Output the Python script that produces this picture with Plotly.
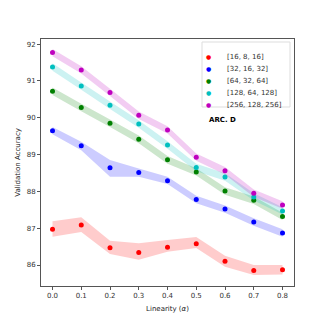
import plotly.graph_objects as go

linearity = [0.0, 0.1, 0.2, 0.3, 0.4, 0.5, 0.6, 0.7, 0.8]

arch_names = ["[16, 8, 16]", "[32, 16, 32]", "[64, 32, 64]", "[128, 64, 128]", "[256, 128, 256]"]
arch_colors = ["#ff0000", "#0000ff", "#008000", "#00bfbf", "#bf00bf"]
band_colors = ["rgba(255,0,0,0.2)", "rgba(0,0,255,0.2)", "rgba(0,128,0,0.2)",
               "rgba(0,191,191,0.2)", "rgba(191,0,191,0.2)"]

acc_16 = [86.97, 87.09, 86.47, 86.34, 86.48, 86.58, 86.10, 85.85, 85.87]
lo_16 = [86.77, 86.90, 86.30, 86.14, 86.36, 86.46, 85.95, 85.73, 85.74]
hi_16 = [87.19, 87.30, 86.66, 86.59, 86.68, 86.76, 86.25, 86.00, 86.00]

acc_32 = [89.65, 89.24, 88.64, 88.51, 88.29, 87.78, 87.52, 87.17, 86.87]
lo_32 = [89.55, 89.12, 88.40, 88.40, 88.20, 87.68, 87.42, 87.07, 86.77]
hi_32 = [89.75, 89.35, 88.85, 88.62, 88.40, 87.88, 87.62, 87.27, 86.97]

acc_64 = [90.72, 90.28, 89.85, 89.42, 88.86, 88.53, 88.01, 87.76, 87.32]
lo_64 = [90.62, 90.18, 89.75, 89.31, 88.75, 88.43, 87.91, 87.66, 87.22]
hi_64 = [90.82, 90.38, 89.95, 89.52, 88.96, 88.63, 88.11, 87.86, 87.42]

acc_128 = [91.38, 90.86, 90.34, 89.83, 89.26, 88.65, 88.39, 87.85, 87.47]
lo_128 = [91.28, 90.76, 90.24, 89.73, 89.16, 88.55, 88.29, 87.75, 87.37]
hi_128 = [91.48, 90.96, 90.44, 89.93, 89.36, 88.75, 88.49, 87.95, 87.57]

acc_256 = [91.77, 91.30, 90.69, 90.07, 89.67, 88.93, 88.56, 87.95, 87.63]
lo_256 = [91.67, 91.20, 90.59, 89.97, 89.57, 88.83, 88.46, 87.85, 87.53]
hi_256 = [91.87, 91.40, 90.79, 90.17, 89.77, 89.03, 88.66, 88.05, 87.73]

series = [(acc_16, lo_16, hi_16), (acc_32, lo_32, hi_32), (acc_64, lo_64, hi_64),
          (acc_128, lo_128, hi_128), (acc_256, lo_256, hi_256)]

# page body adds an 8px offset, so the plot box is shifted back by that much
OFF = 8
L, R, T, B = 41 - OFF, 33, 39 - OFF, 41
W = H = 327 - OFF


def px_x(p):
    return (p - OFF - L) / (W - L - R)


def px_y(p):
    return (H - B - (p - OFF)) / (H - T - B)


fig = go.Figure()

# shaded bands first so the dots sit on top
for (acc, lo, hi), bc in zip(series, band_colors):
    fig.add_trace(go.Scatter(x=linearity + linearity[::-1], y=hi + lo[::-1],
                             fill="toself", fillcolor=bc, mode="none",
                             showlegend=False, hoverinfo="skip"))

for (acc, lo, hi), name, c in zip(series, arch_names, arch_colors):
    fig.add_trace(go.Scatter(x=linearity, y=acc, mode="markers", name=name,
                             marker=dict(color=c, size=5), showlegend=False))

axis_style = dict(showgrid=False, zeroline=False, showline=True, linecolor="#555555",
                  linewidth=1, mirror=True, ticks="outside", ticklen=3, automargin=False,
                  tickcolor="#555555", tickfont=dict(size=7, color="#333333"))

fig.update_xaxes(range=[-0.04, 0.84], tickvals=linearity,
                 ticktext=[f"{v:.1f}" for v in linearity],
                 title=dict(text="Linearity (<i>α</i>)", font=dict(size=7, color="#222222"), standoff=6),
                 **axis_style)
fig.update_yaxes(range=[85.43, 92.14], tickvals=[86, 87, 88, 89, 90, 91, 92],
                 title=dict(text="Validation Accuracy", font=dict(size=7, color="#222222"), standoff=5),
                 **axis_style)

# hand-drawn legend box, matplotlib style
fig.add_shape(type="rect", xref="paper", yref="paper",
              x0=px_x(202), x1=px_x(290), y0=px_y(107), y1=px_y(42),
              line=dict(color="#dddddd", width=1), fillcolor="rgba(255,255,255,0.8)")
for i, (name, c) in enumerate(zip(arch_names, arch_colors)):
    yy = px_y(50.7 + 12.15 * i)
    fig.add_annotation(x=px_x(212.7), y=yy, xref="paper", yref="paper", text="●",
                       showarrow=False, font=dict(size=6, color=c))
    fig.add_annotation(x=px_x(225), y=yy, xref="paper", yref="paper", text=name,
                       xanchor="left", showarrow=False, font=dict(size=7, color="#333333"))

fig.add_annotation(x=px_x(238), y=px_y(113.5), xref="paper", yref="paper", text="<b>ARC. D</b>",
                   showarrow=False, font=dict(size=7, color="black"))

fig.update_layout(
    width=W, height=H,
    margin=dict(l=L, r=R, t=T, b=B),
    paper_bgcolor="white", plot_bgcolor="white",
    font=dict(family="DejaVu Sans"),
    showlegend=False,
)

fig.write_html("out.html")
